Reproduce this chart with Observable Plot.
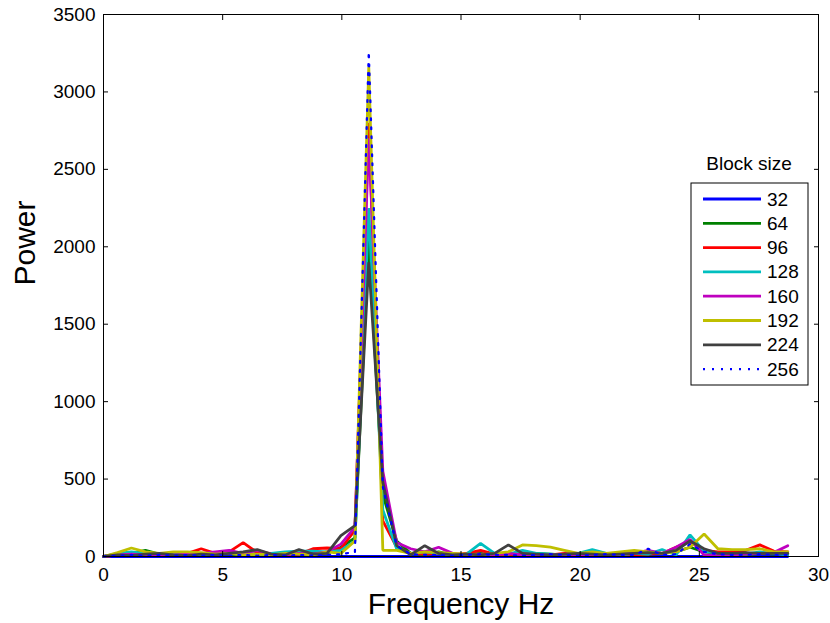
<!DOCTYPE html>
<html><head><meta charset="utf-8">
<script src="https://cdn.jsdelivr.net/npm/d3@7"></script>
<script src="https://cdn.jsdelivr.net/npm/@observablehq/plot@0.6"></script>
<style>
body{margin:0;background:#fff}
#chart{position:relative;width:830px;height:623px}
</style>
</head><body><div id="chart"></div>
<script>
const freq = [0,0.59,1.17,1.76,2.34,2.93,3.52,4.10,4.69,5.27,5.86,6.45,7.03,7.62,8.20,8.79,9.38,9.96,10.55,11.13,11.72,12.30,12.89,13.48,14.06,14.65,15.23,15.82,16.41,16.99,17.58,18.16,18.75,19.34,19.92,20.51,21.09,21.68,22.27,22.85,23.44,24.02,24.61,25.20,25.78,26.37,26.95,27.54,28.12,28.71];

const p32  = [0,0,0,0,0,0,0,0,0,0,0,0,0,0,0,0,0,0,0,0,0,0,0,0,0,0,0,0,0,0,0,0,0,0,0,0,0,0,0,0,0,0,0,0,0,0,0,0,0,0];
const p64  = [0,15,20,40,15,10,20,10,25,15,10,20,10,15,20,25,20,60,120,2050,400,100,20,10,30,10,15,20,10,15,10,20,15,10,20,10,15,20,10,15,20,30,60,30,20,15,10,20,15,20];
const p96  = [0,10,20,15,10,15,20,50,20,30,90,25,20,10,15,50,55,50,170,2800,230,60,20,15,20,10,20,40,15,10,20,15,10,20,15,10,20,15,10,15,20,60,95,40,30,30,40,75,35,30];
const p128 = [0,20,30,20,10,15,20,10,15,20,15,10,20,30,35,35,30,40,100,2250,300,50,20,30,20,10,15,85,20,15,40,20,15,10,20,45,20,10,20,15,45,10,140,35,20,20,15,30,20,10];
const p160 = [0,10,15,10,5,10,15,20,30,40,20,40,15,10,20,15,30,80,190,2700,550,90,50,30,60,20,10,15,10,20,10,5,10,15,10,5,10,15,20,40,20,60,110,10,5,10,15,20,25,70];
const p192 = [0,25,55,30,20,30,30,25,15,20,10,15,10,20,15,10,30,20,100,3160,40,40,20,30,25,20,15,10,20,30,75,70,60,40,20,30,20,30,40,30,20,30,60,145,50,45,45,50,30,30];
const p224 = [0,10,5,15,20,10,5,15,10,20,30,45,15,10,45,15,20,135,200,1900,480,70,10,70,20,10,15,10,20,75,20,15,10,15,20,15,10,15,20,25,20,40,100,50,20,20,25,20,20,20];
const p256 = [0,5,10,5,10,5,10,5,10,5,10,5,10,5,10,5,10,15,30,3260,450,70,15,10,10,5,10,15,10,10,5,10,15,10,5,10,15,10,10,50,10,15,80,30,15,10,10,15,10,10];

const blockSizes = ["32","64","96","128","160","192","224","256"];
const seriesColors = ["#0000ff","#008000","#ff0000","#00bfbf","#bf00bf","#bfbf00","#404040","#0000ff"];
const xTicks = [0,5,10,15,20,25,30];
const yTicks = [0,500,1000,1500,2000,2500,3000,3500];

const seriesValues = [p32,p64,p96,p128,p160,p192,p224,p256];
const FONT = "'Liberation Sans', Arial, Helvetica, sans-serif";

const lineMarks = seriesValues.map((vals, k) => {
  const data = freq.map((f, i) => ({f, v: vals[i]}));
  return Plot.line(data, {
    x: "f", y: "v",
    stroke: seriesColors[k],
    strokeWidth: k === 7 ? 2.2 : 2.8,
    strokeDasharray: k === 7 ? "2,7" : null,
    strokeLinejoin: "miter"
  });
});

const chart = Plot.plot({
  width: 830, height: 623,
  marginLeft: 103, marginRight: 12, marginTop: 14, marginBottom: 67,
  x: {domain: [0, 30]},
  y: {domain: [0, 3500]},
  style: {fontFamily: FONT, fontSize: "19px", color: "#000", background: "#fff", overflow: "visible"},
  marks: [
    ...lineMarks,
    Plot.frame({stroke: "#000", strokeWidth: 1}),
    Plot.axisX({anchor: "bottom", ticks: xTicks, tickSize: -5, tickPadding: 16, fontSize: 19, label: null, tickFormat: d => String(d)}),
    Plot.axisX({anchor: "top", ticks: xTicks, tickSize: -5, tickFormat: () => "", label: null}),
    Plot.axisY({anchor: "left", ticks: yTicks, tickSize: -5, tickPadding: 13, fontSize: 19, label: null, tickFormat: d => String(d)}),
    Plot.axisY({anchor: "right", ticks: yTicks, tickSize: -5, tickFormat: () => "", label: null}),
    Plot.text(["Frequency Hz"], {frameAnchor: "bottom", dy: 57, fontSize: 30, fill: "#000"}),
    Plot.text(["Power"], {frameAnchor: "left", dx: -78, rotate: -90, fontSize: 30, fill: "#000"})
  ]
});
document.getElementById("chart").appendChild(chart);

// Legend
const svg = d3.select(chart);
const lg = svg.append("g").attr("font-family", FONT).attr("font-size", 19).attr("fill", "#000");
lg.append("text").attr("x", 749).attr("y", 163).attr("text-anchor", "middle").attr("dominant-baseline", "central").text("Block size");
lg.append("rect").attr("x", 691).attr("y", 183).attr("width", 117).attr("height", 202).attr("fill", "#fff").attr("stroke", "#000");
blockSizes.forEach((b, k) => {
  const y = 199 + k * 24.3;
  lg.append("line").attr("x1", 703).attr("x2", 761).attr("y1", y).attr("y2", y)
    .attr("stroke", seriesColors[k]).attr("stroke-width", k === 7 ? 2.2 : 2.8)
    .attr("stroke-dasharray", k === 7 ? "2,7" : null);
  lg.append("text").attr("x", 767).attr("y", y).attr("text-anchor", "start").attr("dominant-baseline", "central").text(b);
});
</script>
</body></html>
